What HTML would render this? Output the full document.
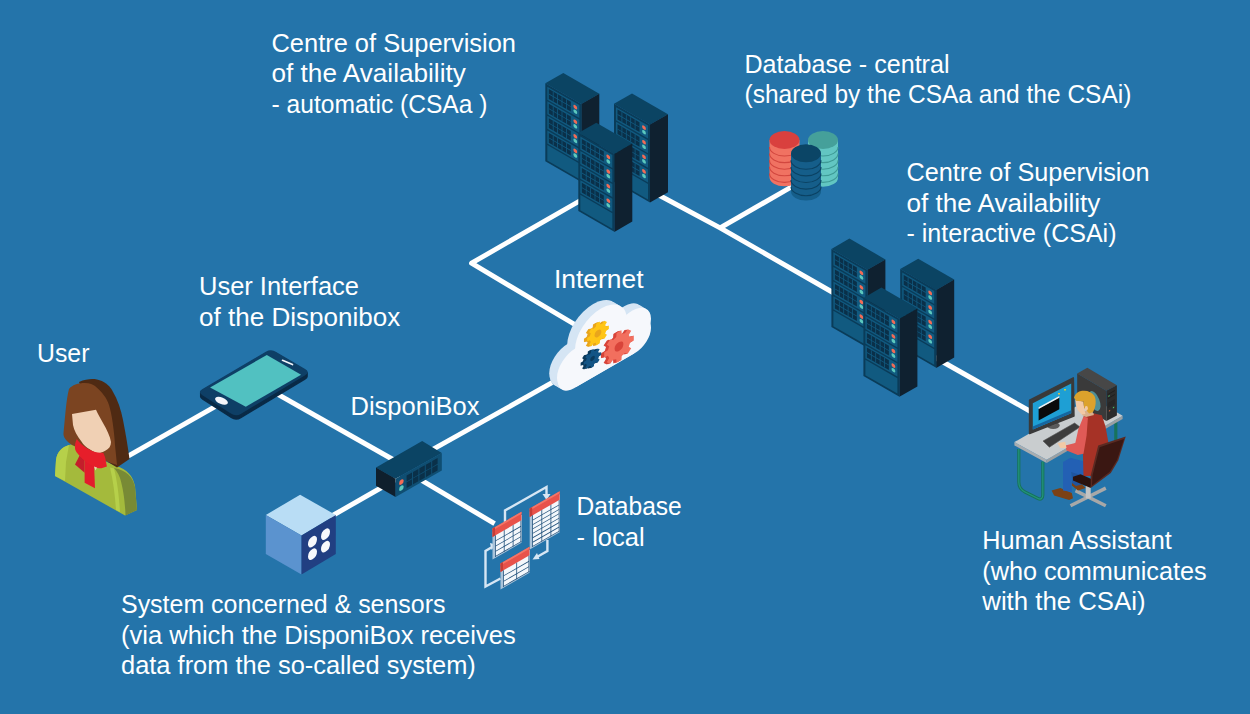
<!DOCTYPE html>
<html><head><meta charset="utf-8"><title>DisponiBox architecture</title>
<style>
html,body{margin:0;padding:0;background:#2474aa;width:1250px;height:714px;overflow:hidden}
svg{display:block}
text{font-family:"Liberation Sans",sans-serif;fill:#fff;font-size:26.3px}
</style></head><body>
<svg width="1250" height="714" viewBox="0 0 1250 714">
<rect width="1250" height="714" fill="#2474aa"/>

<polyline points="128.0,456.1 230.0,398.2" fill="none" stroke="#fff" stroke-width="4.9" stroke-linejoin="round" stroke-linecap="butt"/>
<polyline points="262.0,385.3 400.0,463.5" fill="none" stroke="#fff" stroke-width="4.9" stroke-linejoin="round" stroke-linecap="butt"/>
<polyline points="420.0,479.4 494.6,523.7" fill="none" stroke="#fff" stroke-width="4.9" stroke-linejoin="round" stroke-linecap="butt"/>
<polyline points="330.0,517.0 400.0,477.0" fill="none" stroke="#fff" stroke-width="4.9" stroke-linejoin="round" stroke-linecap="butt"/>
<polyline points="410.0,462.2 552.0,382.7" fill="none" stroke="#fff" stroke-width="4.9" stroke-linejoin="round" stroke-linecap="butt"/>
<polyline points="590.0,333.5 471.5,263.2 590.0,195.0" fill="none" stroke="#fff" stroke-width="4.9" stroke-linejoin="round" stroke-linecap="butt"/>
<polyline points="640.0,185.0 720.1,227.9 860.0,308.0" fill="none" stroke="#fff" stroke-width="4.9" stroke-linejoin="round" stroke-linecap="butt"/>
<polyline points="720.1,227.9 800.0,182.0" fill="none" stroke="#fff" stroke-width="4.9" stroke-linejoin="round" stroke-linecap="butt"/>
<polyline points="920.0,349.0 1035.0,414.0" fill="none" stroke="#fff" stroke-width="4.9" stroke-linejoin="round" stroke-linecap="butt"/>
<polygon points="545.3,83.3 563.3,72.9 599.3,93.7 581.3,104.1" fill="#0b4463"/>
<polygon points="581.3,104.1 599.3,93.7 599.3,171.7 581.3,182.1" fill="#0f2130"/>
<g transform="matrix(1,0.577,0,1,545.3,83.3)">
<rect x="0" y="0" width="36" height="78" fill="#0a3c59"/>
<rect x="2" y="2.2" width="32" height="13.0" fill="#115a80"/>
<rect x="3.5" y="3.8" width="22" height="9.8" fill="#0a3049"/>
<rect x="7.5" y="3.8" width="0.8" height="9.8" fill="#115a80"/>
<rect x="11.9" y="3.8" width="0.8" height="9.8" fill="#115a80"/>
<rect x="16.3" y="3.8" width="0.8" height="9.8" fill="#115a80"/>
<rect x="20.7" y="3.8" width="0.8" height="9.8" fill="#115a80"/>
<rect x="3.5" y="8.3" width="22" height="0.8" fill="#115a80"/>
<ellipse cx="30" cy="6.5" rx="1.9" ry="1.9" fill="#f26b55"/>
<ellipse cx="30" cy="11.1" rx="1.9" ry="1.9" fill="#5cc9be"/>
<rect x="2" y="16.8" width="32" height="13.0" fill="#115a80"/>
<rect x="3.5" y="18.4" width="22" height="9.8" fill="#0a3049"/>
<rect x="7.5" y="18.4" width="0.8" height="9.8" fill="#115a80"/>
<rect x="11.9" y="18.4" width="0.8" height="9.8" fill="#115a80"/>
<rect x="16.3" y="18.4" width="0.8" height="9.8" fill="#115a80"/>
<rect x="20.7" y="18.4" width="0.8" height="9.8" fill="#115a80"/>
<rect x="3.5" y="22.9" width="22" height="0.8" fill="#115a80"/>
<ellipse cx="30" cy="21.1" rx="1.9" ry="1.9" fill="#f26b55"/>
<ellipse cx="30" cy="25.7" rx="1.9" ry="1.9" fill="#5cc9be"/>
<rect x="2" y="31.4" width="32" height="13.0" fill="#115a80"/>
<rect x="3.5" y="33.0" width="22" height="9.8" fill="#0a3049"/>
<rect x="7.5" y="33.0" width="0.8" height="9.8" fill="#115a80"/>
<rect x="11.9" y="33.0" width="0.8" height="9.8" fill="#115a80"/>
<rect x="16.3" y="33.0" width="0.8" height="9.8" fill="#115a80"/>
<rect x="20.7" y="33.0" width="0.8" height="9.8" fill="#115a80"/>
<rect x="3.5" y="37.5" width="22" height="0.8" fill="#115a80"/>
<ellipse cx="30" cy="35.7" rx="1.9" ry="1.9" fill="#f26b55"/>
<ellipse cx="30" cy="40.3" rx="1.9" ry="1.9" fill="#5cc9be"/>
<rect x="2" y="46.0" width="32" height="13.0" fill="#115a80"/>
<rect x="3.5" y="47.6" width="22" height="9.8" fill="#0a3049"/>
<rect x="7.5" y="47.6" width="0.8" height="9.8" fill="#115a80"/>
<rect x="11.9" y="47.6" width="0.8" height="9.8" fill="#115a80"/>
<rect x="16.3" y="47.6" width="0.8" height="9.8" fill="#115a80"/>
<rect x="20.7" y="47.6" width="0.8" height="9.8" fill="#115a80"/>
<rect x="3.5" y="52.1" width="22" height="0.8" fill="#115a80"/>
<ellipse cx="30" cy="50.3" rx="1.9" ry="1.9" fill="#f26b55"/>
<ellipse cx="30" cy="54.9" rx="1.9" ry="1.9" fill="#5cc9be"/>
<rect x="2" y="60.6" width="32" height="15.4" fill="#115a80"/>
</g>
<polygon points="614.0,103.8 632.0,93.4 668.0,114.2 650.0,124.6" fill="#0b4463"/>
<polygon points="650.0,124.6 668.0,114.2 668.0,192.2 650.0,202.6" fill="#0f2130"/>
<g transform="matrix(1,0.577,0,1,614,103.8)">
<rect x="0" y="0" width="36" height="78" fill="#0a3c59"/>
<rect x="2" y="2.2" width="32" height="13.0" fill="#115a80"/>
<rect x="3.5" y="3.8" width="22" height="9.8" fill="#0a3049"/>
<rect x="7.5" y="3.8" width="0.8" height="9.8" fill="#115a80"/>
<rect x="11.9" y="3.8" width="0.8" height="9.8" fill="#115a80"/>
<rect x="16.3" y="3.8" width="0.8" height="9.8" fill="#115a80"/>
<rect x="20.7" y="3.8" width="0.8" height="9.8" fill="#115a80"/>
<rect x="3.5" y="8.3" width="22" height="0.8" fill="#115a80"/>
<ellipse cx="30" cy="6.5" rx="1.9" ry="1.9" fill="#f26b55"/>
<ellipse cx="30" cy="11.1" rx="1.9" ry="1.9" fill="#5cc9be"/>
<rect x="2" y="16.8" width="32" height="13.0" fill="#115a80"/>
<rect x="3.5" y="18.4" width="22" height="9.8" fill="#0a3049"/>
<rect x="7.5" y="18.4" width="0.8" height="9.8" fill="#115a80"/>
<rect x="11.9" y="18.4" width="0.8" height="9.8" fill="#115a80"/>
<rect x="16.3" y="18.4" width="0.8" height="9.8" fill="#115a80"/>
<rect x="20.7" y="18.4" width="0.8" height="9.8" fill="#115a80"/>
<rect x="3.5" y="22.9" width="22" height="0.8" fill="#115a80"/>
<ellipse cx="30" cy="21.1" rx="1.9" ry="1.9" fill="#f26b55"/>
<ellipse cx="30" cy="25.7" rx="1.9" ry="1.9" fill="#5cc9be"/>
<rect x="2" y="31.4" width="32" height="13.0" fill="#115a80"/>
<rect x="3.5" y="33.0" width="22" height="9.8" fill="#0a3049"/>
<rect x="7.5" y="33.0" width="0.8" height="9.8" fill="#115a80"/>
<rect x="11.9" y="33.0" width="0.8" height="9.8" fill="#115a80"/>
<rect x="16.3" y="33.0" width="0.8" height="9.8" fill="#115a80"/>
<rect x="20.7" y="33.0" width="0.8" height="9.8" fill="#115a80"/>
<rect x="3.5" y="37.5" width="22" height="0.8" fill="#115a80"/>
<ellipse cx="30" cy="35.7" rx="1.9" ry="1.9" fill="#f26b55"/>
<ellipse cx="30" cy="40.3" rx="1.9" ry="1.9" fill="#5cc9be"/>
<rect x="2" y="46.0" width="32" height="13.0" fill="#115a80"/>
<rect x="3.5" y="47.6" width="22" height="9.8" fill="#0a3049"/>
<rect x="7.5" y="47.6" width="0.8" height="9.8" fill="#115a80"/>
<rect x="11.9" y="47.6" width="0.8" height="9.8" fill="#115a80"/>
<rect x="16.3" y="47.6" width="0.8" height="9.8" fill="#115a80"/>
<rect x="20.7" y="47.6" width="0.8" height="9.8" fill="#115a80"/>
<rect x="3.5" y="52.1" width="22" height="0.8" fill="#115a80"/>
<ellipse cx="30" cy="50.3" rx="1.9" ry="1.9" fill="#f26b55"/>
<ellipse cx="30" cy="54.9" rx="1.9" ry="1.9" fill="#5cc9be"/>
<rect x="2" y="60.6" width="32" height="15.4" fill="#115a80"/>
</g>
<polygon points="578.3,133.1 596.3,122.7 632.3,143.5 614.3,153.9" fill="#0b4463"/>
<polygon points="614.3,153.9 632.3,143.5 632.3,221.5 614.3,231.9" fill="#0f2130"/>
<g transform="matrix(1,0.577,0,1,578.3,133.1)">
<rect x="0" y="0" width="36" height="78" fill="#0a3c59"/>
<rect x="2" y="2.2" width="32" height="13.0" fill="#115a80"/>
<rect x="3.5" y="3.8" width="22" height="9.8" fill="#0a3049"/>
<rect x="7.5" y="3.8" width="0.8" height="9.8" fill="#115a80"/>
<rect x="11.9" y="3.8" width="0.8" height="9.8" fill="#115a80"/>
<rect x="16.3" y="3.8" width="0.8" height="9.8" fill="#115a80"/>
<rect x="20.7" y="3.8" width="0.8" height="9.8" fill="#115a80"/>
<rect x="3.5" y="8.3" width="22" height="0.8" fill="#115a80"/>
<ellipse cx="30" cy="6.5" rx="1.9" ry="1.9" fill="#f26b55"/>
<ellipse cx="30" cy="11.1" rx="1.9" ry="1.9" fill="#5cc9be"/>
<rect x="2" y="16.8" width="32" height="13.0" fill="#115a80"/>
<rect x="3.5" y="18.4" width="22" height="9.8" fill="#0a3049"/>
<rect x="7.5" y="18.4" width="0.8" height="9.8" fill="#115a80"/>
<rect x="11.9" y="18.4" width="0.8" height="9.8" fill="#115a80"/>
<rect x="16.3" y="18.4" width="0.8" height="9.8" fill="#115a80"/>
<rect x="20.7" y="18.4" width="0.8" height="9.8" fill="#115a80"/>
<rect x="3.5" y="22.9" width="22" height="0.8" fill="#115a80"/>
<ellipse cx="30" cy="21.1" rx="1.9" ry="1.9" fill="#f26b55"/>
<ellipse cx="30" cy="25.7" rx="1.9" ry="1.9" fill="#5cc9be"/>
<rect x="2" y="31.4" width="32" height="13.0" fill="#115a80"/>
<rect x="3.5" y="33.0" width="22" height="9.8" fill="#0a3049"/>
<rect x="7.5" y="33.0" width="0.8" height="9.8" fill="#115a80"/>
<rect x="11.9" y="33.0" width="0.8" height="9.8" fill="#115a80"/>
<rect x="16.3" y="33.0" width="0.8" height="9.8" fill="#115a80"/>
<rect x="20.7" y="33.0" width="0.8" height="9.8" fill="#115a80"/>
<rect x="3.5" y="37.5" width="22" height="0.8" fill="#115a80"/>
<ellipse cx="30" cy="35.7" rx="1.9" ry="1.9" fill="#f26b55"/>
<ellipse cx="30" cy="40.3" rx="1.9" ry="1.9" fill="#5cc9be"/>
<rect x="2" y="46.0" width="32" height="13.0" fill="#115a80"/>
<rect x="3.5" y="47.6" width="22" height="9.8" fill="#0a3049"/>
<rect x="7.5" y="47.6" width="0.8" height="9.8" fill="#115a80"/>
<rect x="11.9" y="47.6" width="0.8" height="9.8" fill="#115a80"/>
<rect x="16.3" y="47.6" width="0.8" height="9.8" fill="#115a80"/>
<rect x="20.7" y="47.6" width="0.8" height="9.8" fill="#115a80"/>
<rect x="3.5" y="52.1" width="22" height="0.8" fill="#115a80"/>
<ellipse cx="30" cy="50.3" rx="1.9" ry="1.9" fill="#f26b55"/>
<ellipse cx="30" cy="54.9" rx="1.9" ry="1.9" fill="#5cc9be"/>
<rect x="2" y="60.6" width="32" height="15.4" fill="#115a80"/>
</g>
<polygon points="831.4,249.0 849.4,238.6 885.4,259.4 867.4,269.8" fill="#0b4463"/>
<polygon points="867.4,269.8 885.4,259.4 885.4,337.4 867.4,347.8" fill="#0f2130"/>
<g transform="matrix(1,0.577,0,1,831.4,249)">
<rect x="0" y="0" width="36" height="78" fill="#0a3c59"/>
<rect x="2" y="2.2" width="32" height="13.0" fill="#115a80"/>
<rect x="3.5" y="3.8" width="22" height="9.8" fill="#0a3049"/>
<rect x="7.5" y="3.8" width="0.8" height="9.8" fill="#115a80"/>
<rect x="11.9" y="3.8" width="0.8" height="9.8" fill="#115a80"/>
<rect x="16.3" y="3.8" width="0.8" height="9.8" fill="#115a80"/>
<rect x="20.7" y="3.8" width="0.8" height="9.8" fill="#115a80"/>
<rect x="3.5" y="8.3" width="22" height="0.8" fill="#115a80"/>
<ellipse cx="30" cy="6.5" rx="1.9" ry="1.9" fill="#f26b55"/>
<ellipse cx="30" cy="11.1" rx="1.9" ry="1.9" fill="#5cc9be"/>
<rect x="2" y="16.8" width="32" height="13.0" fill="#115a80"/>
<rect x="3.5" y="18.4" width="22" height="9.8" fill="#0a3049"/>
<rect x="7.5" y="18.4" width="0.8" height="9.8" fill="#115a80"/>
<rect x="11.9" y="18.4" width="0.8" height="9.8" fill="#115a80"/>
<rect x="16.3" y="18.4" width="0.8" height="9.8" fill="#115a80"/>
<rect x="20.7" y="18.4" width="0.8" height="9.8" fill="#115a80"/>
<rect x="3.5" y="22.9" width="22" height="0.8" fill="#115a80"/>
<ellipse cx="30" cy="21.1" rx="1.9" ry="1.9" fill="#f26b55"/>
<ellipse cx="30" cy="25.7" rx="1.9" ry="1.9" fill="#5cc9be"/>
<rect x="2" y="31.4" width="32" height="13.0" fill="#115a80"/>
<rect x="3.5" y="33.0" width="22" height="9.8" fill="#0a3049"/>
<rect x="7.5" y="33.0" width="0.8" height="9.8" fill="#115a80"/>
<rect x="11.9" y="33.0" width="0.8" height="9.8" fill="#115a80"/>
<rect x="16.3" y="33.0" width="0.8" height="9.8" fill="#115a80"/>
<rect x="20.7" y="33.0" width="0.8" height="9.8" fill="#115a80"/>
<rect x="3.5" y="37.5" width="22" height="0.8" fill="#115a80"/>
<ellipse cx="30" cy="35.7" rx="1.9" ry="1.9" fill="#f26b55"/>
<ellipse cx="30" cy="40.3" rx="1.9" ry="1.9" fill="#5cc9be"/>
<rect x="2" y="46.0" width="32" height="13.0" fill="#115a80"/>
<rect x="3.5" y="47.6" width="22" height="9.8" fill="#0a3049"/>
<rect x="7.5" y="47.6" width="0.8" height="9.8" fill="#115a80"/>
<rect x="11.9" y="47.6" width="0.8" height="9.8" fill="#115a80"/>
<rect x="16.3" y="47.6" width="0.8" height="9.8" fill="#115a80"/>
<rect x="20.7" y="47.6" width="0.8" height="9.8" fill="#115a80"/>
<rect x="3.5" y="52.1" width="22" height="0.8" fill="#115a80"/>
<ellipse cx="30" cy="50.3" rx="1.9" ry="1.9" fill="#f26b55"/>
<ellipse cx="30" cy="54.9" rx="1.9" ry="1.9" fill="#5cc9be"/>
<rect x="2" y="60.6" width="32" height="15.4" fill="#115a80"/>
</g>
<polygon points="900.2,269.1 918.2,258.7 954.2,279.5 936.2,289.9" fill="#0b4463"/>
<polygon points="936.2,289.9 954.2,279.5 954.2,357.5 936.2,367.9" fill="#0f2130"/>
<g transform="matrix(1,0.577,0,1,900.2,269.1)">
<rect x="0" y="0" width="36" height="78" fill="#0a3c59"/>
<rect x="2" y="2.2" width="32" height="13.0" fill="#115a80"/>
<rect x="3.5" y="3.8" width="22" height="9.8" fill="#0a3049"/>
<rect x="7.5" y="3.8" width="0.8" height="9.8" fill="#115a80"/>
<rect x="11.9" y="3.8" width="0.8" height="9.8" fill="#115a80"/>
<rect x="16.3" y="3.8" width="0.8" height="9.8" fill="#115a80"/>
<rect x="20.7" y="3.8" width="0.8" height="9.8" fill="#115a80"/>
<rect x="3.5" y="8.3" width="22" height="0.8" fill="#115a80"/>
<ellipse cx="30" cy="6.5" rx="1.9" ry="1.9" fill="#f26b55"/>
<ellipse cx="30" cy="11.1" rx="1.9" ry="1.9" fill="#5cc9be"/>
<rect x="2" y="16.8" width="32" height="13.0" fill="#115a80"/>
<rect x="3.5" y="18.4" width="22" height="9.8" fill="#0a3049"/>
<rect x="7.5" y="18.4" width="0.8" height="9.8" fill="#115a80"/>
<rect x="11.9" y="18.4" width="0.8" height="9.8" fill="#115a80"/>
<rect x="16.3" y="18.4" width="0.8" height="9.8" fill="#115a80"/>
<rect x="20.7" y="18.4" width="0.8" height="9.8" fill="#115a80"/>
<rect x="3.5" y="22.9" width="22" height="0.8" fill="#115a80"/>
<ellipse cx="30" cy="21.1" rx="1.9" ry="1.9" fill="#f26b55"/>
<ellipse cx="30" cy="25.7" rx="1.9" ry="1.9" fill="#5cc9be"/>
<rect x="2" y="31.4" width="32" height="13.0" fill="#115a80"/>
<rect x="3.5" y="33.0" width="22" height="9.8" fill="#0a3049"/>
<rect x="7.5" y="33.0" width="0.8" height="9.8" fill="#115a80"/>
<rect x="11.9" y="33.0" width="0.8" height="9.8" fill="#115a80"/>
<rect x="16.3" y="33.0" width="0.8" height="9.8" fill="#115a80"/>
<rect x="20.7" y="33.0" width="0.8" height="9.8" fill="#115a80"/>
<rect x="3.5" y="37.5" width="22" height="0.8" fill="#115a80"/>
<ellipse cx="30" cy="35.7" rx="1.9" ry="1.9" fill="#f26b55"/>
<ellipse cx="30" cy="40.3" rx="1.9" ry="1.9" fill="#5cc9be"/>
<rect x="2" y="46.0" width="32" height="13.0" fill="#115a80"/>
<rect x="3.5" y="47.6" width="22" height="9.8" fill="#0a3049"/>
<rect x="7.5" y="47.6" width="0.8" height="9.8" fill="#115a80"/>
<rect x="11.9" y="47.6" width="0.8" height="9.8" fill="#115a80"/>
<rect x="16.3" y="47.6" width="0.8" height="9.8" fill="#115a80"/>
<rect x="20.7" y="47.6" width="0.8" height="9.8" fill="#115a80"/>
<rect x="3.5" y="52.1" width="22" height="0.8" fill="#115a80"/>
<ellipse cx="30" cy="50.3" rx="1.9" ry="1.9" fill="#f26b55"/>
<ellipse cx="30" cy="54.9" rx="1.9" ry="1.9" fill="#5cc9be"/>
<rect x="2" y="60.6" width="32" height="15.4" fill="#115a80"/>
</g>
<polygon points="863.4,298.0 881.4,287.6 917.4,308.4 899.4,318.8" fill="#0b4463"/>
<polygon points="899.4,318.8 917.4,308.4 917.4,386.4 899.4,396.8" fill="#0f2130"/>
<g transform="matrix(1,0.577,0,1,863.4,298)">
<rect x="0" y="0" width="36" height="78" fill="#0a3c59"/>
<rect x="2" y="2.2" width="32" height="13.0" fill="#115a80"/>
<rect x="3.5" y="3.8" width="22" height="9.8" fill="#0a3049"/>
<rect x="7.5" y="3.8" width="0.8" height="9.8" fill="#115a80"/>
<rect x="11.9" y="3.8" width="0.8" height="9.8" fill="#115a80"/>
<rect x="16.3" y="3.8" width="0.8" height="9.8" fill="#115a80"/>
<rect x="20.7" y="3.8" width="0.8" height="9.8" fill="#115a80"/>
<rect x="3.5" y="8.3" width="22" height="0.8" fill="#115a80"/>
<ellipse cx="30" cy="6.5" rx="1.9" ry="1.9" fill="#f26b55"/>
<ellipse cx="30" cy="11.1" rx="1.9" ry="1.9" fill="#5cc9be"/>
<rect x="2" y="16.8" width="32" height="13.0" fill="#115a80"/>
<rect x="3.5" y="18.4" width="22" height="9.8" fill="#0a3049"/>
<rect x="7.5" y="18.4" width="0.8" height="9.8" fill="#115a80"/>
<rect x="11.9" y="18.4" width="0.8" height="9.8" fill="#115a80"/>
<rect x="16.3" y="18.4" width="0.8" height="9.8" fill="#115a80"/>
<rect x="20.7" y="18.4" width="0.8" height="9.8" fill="#115a80"/>
<rect x="3.5" y="22.9" width="22" height="0.8" fill="#115a80"/>
<ellipse cx="30" cy="21.1" rx="1.9" ry="1.9" fill="#f26b55"/>
<ellipse cx="30" cy="25.7" rx="1.9" ry="1.9" fill="#5cc9be"/>
<rect x="2" y="31.4" width="32" height="13.0" fill="#115a80"/>
<rect x="3.5" y="33.0" width="22" height="9.8" fill="#0a3049"/>
<rect x="7.5" y="33.0" width="0.8" height="9.8" fill="#115a80"/>
<rect x="11.9" y="33.0" width="0.8" height="9.8" fill="#115a80"/>
<rect x="16.3" y="33.0" width="0.8" height="9.8" fill="#115a80"/>
<rect x="20.7" y="33.0" width="0.8" height="9.8" fill="#115a80"/>
<rect x="3.5" y="37.5" width="22" height="0.8" fill="#115a80"/>
<ellipse cx="30" cy="35.7" rx="1.9" ry="1.9" fill="#f26b55"/>
<ellipse cx="30" cy="40.3" rx="1.9" ry="1.9" fill="#5cc9be"/>
<rect x="2" y="46.0" width="32" height="13.0" fill="#115a80"/>
<rect x="3.5" y="47.6" width="22" height="9.8" fill="#0a3049"/>
<rect x="7.5" y="47.6" width="0.8" height="9.8" fill="#115a80"/>
<rect x="11.9" y="47.6" width="0.8" height="9.8" fill="#115a80"/>
<rect x="16.3" y="47.6" width="0.8" height="9.8" fill="#115a80"/>
<rect x="20.7" y="47.6" width="0.8" height="9.8" fill="#115a80"/>
<rect x="3.5" y="52.1" width="22" height="0.8" fill="#115a80"/>
<ellipse cx="30" cy="50.3" rx="1.9" ry="1.9" fill="#f26b55"/>
<ellipse cx="30" cy="54.9" rx="1.9" ry="1.9" fill="#5cc9be"/>
<rect x="2" y="60.6" width="32" height="15.4" fill="#115a80"/>
</g>
<path d="M769.5,140 L769.5,177.3 A15,9 0 0 0 799.5,177.3 L799.5,140 Z" fill="#f07262"/>
<path d="M769.5,147.0 A15,9 0 0 0 799.5,147.0" fill="none" stroke="#d2473f" stroke-width="1.1"/>
<path d="M769.5,153.6 A15,9 0 0 0 799.5,153.6" fill="none" stroke="#d2473f" stroke-width="1.1"/>
<path d="M769.5,160.2 A15,9 0 0 0 799.5,160.2" fill="none" stroke="#d2473f" stroke-width="1.1"/>
<path d="M769.5,166.8 A15,9 0 0 0 799.5,166.8" fill="none" stroke="#d2473f" stroke-width="1.1"/>
<path d="M769.5,173.4 A15,9 0 0 0 799.5,173.4" fill="none" stroke="#d2473f" stroke-width="1.1"/>
<ellipse cx="784.5" cy="140" rx="15" ry="9" fill="#d9403e"/>
<path d="M808,140 L808,177.7 A15,9 0 0 0 838,177.7 L838,140 Z" fill="#62c6c2"/>
<path d="M808,147.0 A15,9 0 0 0 838,147.0" fill="none" stroke="#3e9a95" stroke-width="1.1"/>
<path d="M808,153.6 A15,9 0 0 0 838,153.6" fill="none" stroke="#3e9a95" stroke-width="1.1"/>
<path d="M808,160.2 A15,9 0 0 0 838,160.2" fill="none" stroke="#3e9a95" stroke-width="1.1"/>
<path d="M808,166.8 A15,9 0 0 0 838,166.8" fill="none" stroke="#3e9a95" stroke-width="1.1"/>
<path d="M808,173.4 A15,9 0 0 0 838,173.4" fill="none" stroke="#3e9a95" stroke-width="1.1"/>
<ellipse cx="823" cy="140" rx="15" ry="9" fill="#45a09a"/>
<path d="M791,153.3 L791,191.6 A15,9 0 0 0 821,191.6 L821,153.3 Z" fill="#155e8a"/>
<path d="M791,160.3 A15,9 0 0 0 821,160.3" fill="none" stroke="#0b4263" stroke-width="1.1"/>
<path d="M791,166.9 A15,9 0 0 0 821,166.9" fill="none" stroke="#0b4263" stroke-width="1.1"/>
<path d="M791,173.5 A15,9 0 0 0 821,173.5" fill="none" stroke="#0b4263" stroke-width="1.1"/>
<path d="M791,180.1 A15,9 0 0 0 821,180.1" fill="none" stroke="#0b4263" stroke-width="1.1"/>
<path d="M791,186.7 A15,9 0 0 0 821,186.7" fill="none" stroke="#0b4263" stroke-width="1.1"/>
<ellipse cx="806" cy="153.3" rx="15" ry="9" fill="#0b4566"/>
<g transform="matrix(1,-0.577,0,1,542.2,395.5)" fill="#d5e5f4"><circle cx="26" cy="-18" r="19"/><circle cx="51" cy="-36" r="26"/><circle cx="82" cy="-23" r="19"/><rect x="8" y="-30" width="93" height="32" rx="16"/><rect x="26" y="-34" width="58" height="36"/></g>
<g transform="matrix(1,-0.577,0,1,544.8,397.0)" fill="#d5e5f4"><circle cx="26" cy="-18" r="19"/><circle cx="51" cy="-36" r="26"/><circle cx="82" cy="-23" r="19"/><rect x="8" y="-30" width="93" height="32" rx="16"/><rect x="26" y="-34" width="58" height="36"/></g>
<g transform="matrix(1,-0.577,0,1,547.4,398.5)" fill="#d5e5f4"><circle cx="26" cy="-18" r="19"/><circle cx="51" cy="-36" r="26"/><circle cx="82" cy="-23" r="19"/><rect x="8" y="-30" width="93" height="32" rx="16"/><rect x="26" y="-34" width="58" height="36"/></g>
<g transform="matrix(1,-0.577,0,1,550.0,400.0)" fill="#f6f8fc"><circle cx="26" cy="-18" r="19"/><circle cx="51" cy="-36" r="26"/><circle cx="82" cy="-23" r="19"/><rect x="8" y="-30" width="93" height="32" rx="16"/><rect x="26" y="-34" width="58" height="36"/></g>
<g transform="matrix(1,-0.577,0,1,594.8,334.3)"><polygon points="8.15,-2.03 10.85,-1.81 10.85,1.81 8.15,2.03 7.20,4.33 8.95,6.40 6.40,8.95 4.33,7.20 2.03,8.15 1.81,10.85 -1.81,10.85 -2.03,8.15 -4.33,7.20 -6.40,8.95 -8.95,6.40 -7.20,4.33 -8.15,2.03 -10.85,1.81 -10.85,-1.81 -8.15,-2.03 -7.20,-4.33 -8.95,-6.40 -6.40,-8.95 -4.33,-7.20 -2.03,-8.15 -1.81,-10.85 1.81,-10.85 2.03,-8.15 4.33,-7.20 6.40,-8.95 8.95,-6.40 7.20,-4.33" fill="#e9a51c"/></g>
<g transform="matrix(1,-0.577,0,1,595.9,334.0)"><polygon points="8.15,-2.03 10.85,-1.81 10.85,1.81 8.15,2.03 7.20,4.33 8.95,6.40 6.40,8.95 4.33,7.20 2.03,8.15 1.81,10.85 -1.81,10.85 -2.03,8.15 -4.33,7.20 -6.40,8.95 -8.95,6.40 -7.20,4.33 -8.15,2.03 -10.85,1.81 -10.85,-1.81 -8.15,-2.03 -7.20,-4.33 -8.95,-6.40 -6.40,-8.95 -4.33,-7.20 -2.03,-8.15 -1.81,-10.85 1.81,-10.85 2.03,-8.15 4.33,-7.20 6.40,-8.95 8.95,-6.40 7.20,-4.33" fill="#e9a51c"/></g>
<g transform="matrix(1,-0.577,0,1,597.0,333.8)"><polygon points="8.15,-2.03 10.85,-1.81 10.85,1.81 8.15,2.03 7.20,4.33 8.95,6.40 6.40,8.95 4.33,7.20 2.03,8.15 1.81,10.85 -1.81,10.85 -2.03,8.15 -4.33,7.20 -6.40,8.95 -8.95,6.40 -7.20,4.33 -8.15,2.03 -10.85,1.81 -10.85,-1.81 -8.15,-2.03 -7.20,-4.33 -8.95,-6.40 -6.40,-8.95 -4.33,-7.20 -2.03,-8.15 -1.81,-10.85 1.81,-10.85 2.03,-8.15 4.33,-7.20 6.40,-8.95 8.95,-6.40 7.20,-4.33" fill="#e9a51c"/></g>
<g transform="matrix(1,-0.577,0,1,598.0,333.5)"><polygon points="8.15,-2.03 10.85,-1.81 10.85,1.81 8.15,2.03 7.20,4.33 8.95,6.40 6.40,8.95 4.33,7.20 2.03,8.15 1.81,10.85 -1.81,10.85 -2.03,8.15 -4.33,7.20 -6.40,8.95 -8.95,6.40 -7.20,4.33 -8.15,2.03 -10.85,1.81 -10.85,-1.81 -8.15,-2.03 -7.20,-4.33 -8.95,-6.40 -6.40,-8.95 -4.33,-7.20 -2.03,-8.15 -1.81,-10.85 1.81,-10.85 2.03,-8.15 4.33,-7.20 6.40,-8.95 8.95,-6.40 7.20,-4.33" fill="#ffc516"/></g>
<g transform="matrix(1,-0.577,0,1,598.0,333.5)"><circle cx="0" cy="0" r="3.4" fill="#e9a51c"/></g>
<g transform="matrix(1,-0.577,0,1,615.8,347.3)"><polygon points="11.06,-2.75 14.80,-2.46 14.80,2.46 11.06,2.75 9.77,5.88 12.20,8.72 8.72,12.20 5.88,9.77 2.75,11.06 2.46,14.80 -2.46,14.80 -2.75,11.06 -5.88,9.77 -8.72,12.20 -12.20,8.72 -9.77,5.88 -11.06,2.75 -14.80,2.46 -14.80,-2.46 -11.06,-2.75 -9.77,-5.88 -12.20,-8.72 -8.72,-12.20 -5.88,-9.77 -2.75,-11.06 -2.46,-14.80 2.46,-14.80 2.75,-11.06 5.88,-9.77 8.72,-12.20 12.20,-8.72 9.77,-5.88" fill="#d8443a"/></g>
<g transform="matrix(1,-0.577,0,1,616.9,347.0)"><polygon points="11.06,-2.75 14.80,-2.46 14.80,2.46 11.06,2.75 9.77,5.88 12.20,8.72 8.72,12.20 5.88,9.77 2.75,11.06 2.46,14.80 -2.46,14.80 -2.75,11.06 -5.88,9.77 -8.72,12.20 -12.20,8.72 -9.77,5.88 -11.06,2.75 -14.80,2.46 -14.80,-2.46 -11.06,-2.75 -9.77,-5.88 -12.20,-8.72 -8.72,-12.20 -5.88,-9.77 -2.75,-11.06 -2.46,-14.80 2.46,-14.80 2.75,-11.06 5.88,-9.77 8.72,-12.20 12.20,-8.72 9.77,-5.88" fill="#d8443a"/></g>
<g transform="matrix(1,-0.577,0,1,618.0,346.8)"><polygon points="11.06,-2.75 14.80,-2.46 14.80,2.46 11.06,2.75 9.77,5.88 12.20,8.72 8.72,12.20 5.88,9.77 2.75,11.06 2.46,14.80 -2.46,14.80 -2.75,11.06 -5.88,9.77 -8.72,12.20 -12.20,8.72 -9.77,5.88 -11.06,2.75 -14.80,2.46 -14.80,-2.46 -11.06,-2.75 -9.77,-5.88 -12.20,-8.72 -8.72,-12.20 -5.88,-9.77 -2.75,-11.06 -2.46,-14.80 2.46,-14.80 2.75,-11.06 5.88,-9.77 8.72,-12.20 12.20,-8.72 9.77,-5.88" fill="#d8443a"/></g>
<g transform="matrix(1,-0.577,0,1,619.0,346.5)"><polygon points="11.06,-2.75 14.80,-2.46 14.80,2.46 11.06,2.75 9.77,5.88 12.20,8.72 8.72,12.20 5.88,9.77 2.75,11.06 2.46,14.80 -2.46,14.80 -2.75,11.06 -5.88,9.77 -8.72,12.20 -12.20,8.72 -9.77,5.88 -11.06,2.75 -14.80,2.46 -14.80,-2.46 -11.06,-2.75 -9.77,-5.88 -12.20,-8.72 -8.72,-12.20 -5.88,-9.77 -2.75,-11.06 -2.46,-14.80 2.46,-14.80 2.75,-11.06 5.88,-9.77 8.72,-12.20 12.20,-8.72 9.77,-5.88" fill="#f26f5e"/></g>
<g transform="matrix(1,-0.577,0,1,619.0,346.5)"><circle cx="0" cy="0" r="4.4" fill="#d8443a"/></g>
<g transform="matrix(1,-0.577,0,1,589.3,359.3)"><polygon points="6.50,-1.62 8.68,-1.44 8.68,1.44 6.50,1.62 5.74,3.46 7.16,5.12 5.12,7.16 3.46,5.74 1.62,6.50 1.44,8.68 -1.44,8.68 -1.62,6.50 -3.46,5.74 -5.12,7.16 -7.16,5.12 -5.74,3.46 -6.50,1.62 -8.68,1.44 -8.68,-1.44 -6.50,-1.62 -5.74,-3.46 -7.16,-5.12 -5.12,-7.16 -3.46,-5.74 -1.62,-6.50 -1.44,-8.68 1.44,-8.68 1.62,-6.50 3.46,-5.74 5.12,-7.16 7.16,-5.12 5.74,-3.46" fill="#0b3a5c"/></g>
<g transform="matrix(1,-0.577,0,1,590.4,359.0)"><polygon points="6.50,-1.62 8.68,-1.44 8.68,1.44 6.50,1.62 5.74,3.46 7.16,5.12 5.12,7.16 3.46,5.74 1.62,6.50 1.44,8.68 -1.44,8.68 -1.62,6.50 -3.46,5.74 -5.12,7.16 -7.16,5.12 -5.74,3.46 -6.50,1.62 -8.68,1.44 -8.68,-1.44 -6.50,-1.62 -5.74,-3.46 -7.16,-5.12 -5.12,-7.16 -3.46,-5.74 -1.62,-6.50 -1.44,-8.68 1.44,-8.68 1.62,-6.50 3.46,-5.74 5.12,-7.16 7.16,-5.12 5.74,-3.46" fill="#0b3a5c"/></g>
<g transform="matrix(1,-0.577,0,1,591.5,358.8)"><polygon points="6.50,-1.62 8.68,-1.44 8.68,1.44 6.50,1.62 5.74,3.46 7.16,5.12 5.12,7.16 3.46,5.74 1.62,6.50 1.44,8.68 -1.44,8.68 -1.62,6.50 -3.46,5.74 -5.12,7.16 -7.16,5.12 -5.74,3.46 -6.50,1.62 -8.68,1.44 -8.68,-1.44 -6.50,-1.62 -5.74,-3.46 -7.16,-5.12 -5.12,-7.16 -3.46,-5.74 -1.62,-6.50 -1.44,-8.68 1.44,-8.68 1.62,-6.50 3.46,-5.74 5.12,-7.16 7.16,-5.12 5.74,-3.46" fill="#0b3a5c"/></g>
<g transform="matrix(1,-0.577,0,1,592.5,358.5)"><polygon points="6.50,-1.62 8.68,-1.44 8.68,1.44 6.50,1.62 5.74,3.46 7.16,5.12 5.12,7.16 3.46,5.74 1.62,6.50 1.44,8.68 -1.44,8.68 -1.62,6.50 -3.46,5.74 -5.12,7.16 -7.16,5.12 -5.74,3.46 -6.50,1.62 -8.68,1.44 -8.68,-1.44 -6.50,-1.62 -5.74,-3.46 -7.16,-5.12 -5.12,-7.16 -3.46,-5.74 -1.62,-6.50 -1.44,-8.68 1.44,-8.68 1.62,-6.50 3.46,-5.74 5.12,-7.16 7.16,-5.12 5.74,-3.46" fill="#135485"/></g>
<g transform="matrix(1,-0.577,0,1,592.5,358.5)"><circle cx="0" cy="0" r="2.3" fill="#0b3a5c"/></g>
<path d="M202.4,399.7 Q197.3,396.5 202.5,393.5 L265.8,356.3 Q271.0,353.3 276.2,356.4 L305.1,373.6 Q310.3,376.7 305.2,379.8 L241.1,418.2 Q236.0,421.3 230.9,418.1 Z" fill="#0a2b47"/>
<path d="M202.4,398.7 Q197.3,395.5 202.5,392.5 L265.8,355.3 Q271.0,352.3 276.2,355.4 L305.1,372.6 Q310.3,375.7 305.2,378.8 L241.1,417.2 Q236.0,420.3 230.9,417.1 Z" fill="#0a2b47"/>
<path d="M202.4,397.7 Q197.3,394.5 202.5,391.5 L265.8,354.3 Q271.0,351.3 276.2,354.4 L305.1,371.6 Q310.3,374.7 305.2,377.8 L241.1,416.2 Q236.0,419.3 230.9,416.1 Z" fill="#0a2b47"/>
<path d="M202.4,396.7 Q197.3,393.5 202.5,390.5 L265.8,353.3 Q271.0,350.3 276.2,353.4 L305.1,370.6 Q310.3,373.7 305.2,376.8 L241.1,415.2 Q236.0,418.3 230.9,415.1 Z" fill="#0a2b47"/>
<path d="M202.4,396.0 Q197.3,392.8 202.5,389.8 L265.8,352.6 Q271.0,349.6 276.2,352.7 L305.1,369.9 Q310.3,373.0 305.2,376.1 L241.1,414.5 Q236.0,417.6 230.9,414.4 Z" fill="#0a2b47"/>
<path d="M202.4,395.2 Q197.3,392.0 202.5,389.0 L265.8,351.8 Q271.0,348.8 276.2,351.9 L305.1,369.1 Q310.3,372.2 305.2,375.3 L241.1,413.7 Q236.0,416.8 230.9,413.6 Z" fill="#0e3f66"/>
<polygon points="210.1,387.4 266.8,355 301.1,374.8 245.8,406.7" fill="#51c1c1"/>
<ellipse cx="221.5" cy="400.8" rx="6.8" ry="3.3" transform="rotate(22 221.5 400.8)" fill="#f4f6fb"/>
<line x1="282.5" y1="360.3" x2="292.5" y2="364.6" stroke="#f4f6fb" stroke-width="1.6" stroke-linecap="round"/>
<polygon points="376,467.6 422.2,441 441.8,452.9 395.6,478.8" fill="#0b4464"/>
<polygon points="376,467.6 395.6,478.8 395.6,497 376,485.8" fill="#0f1f2d"/>
<polygon points="395.6,478.8 441.8,452.9 441.8,470.4 395.6,497" fill="#0f4e72"/>
<g transform="matrix(1,-0.565,0,1,395.6,478.8)">
<ellipse cx="5.8" cy="6.6" rx="2.3" ry="2.5" fill="#f26b55"/><ellipse cx="5.8" cy="12.6" rx="2.3" ry="2.5" fill="#5cc9be"/>
<rect x="11.0" y="3.0" width="5.4" height="5.8" fill="#0a3049"/>
<rect x="11.0" y="9.6" width="5.4" height="5.8" fill="#0a3049"/>
<rect x="17.4" y="3.0" width="5.4" height="5.8" fill="#0a3049"/>
<rect x="17.4" y="9.6" width="5.4" height="5.8" fill="#0a3049"/>
<rect x="23.8" y="3.0" width="5.4" height="5.8" fill="#0a3049"/>
<rect x="23.8" y="9.6" width="5.4" height="5.8" fill="#0a3049"/>
<rect x="30.2" y="3.0" width="5.4" height="5.8" fill="#0a3049"/>
<rect x="30.2" y="9.6" width="5.4" height="5.8" fill="#0a3049"/>
<rect x="36.6" y="3.0" width="5.4" height="5.8" fill="#0a3049"/>
<rect x="36.6" y="9.6" width="5.4" height="5.8" fill="#0a3049"/>
</g>
<polygon points="265.8,515 300.1,494.7 335.8,515 301.5,535.5" fill="#b9ddf5"/>
<polygon points="265.8,515 301.5,535.5 301.5,574.6 265.8,554" fill="#5b93cf"/>
<polygon points="301.5,535.5 335.8,515 335.8,554 301.5,574.6" fill="#213f82"/>
<g transform="matrix(1,-0.577,0,1,301.5,535.5)">
<ellipse cx="11" cy="12.5" rx="4.5" ry="5.2" fill="#f7f9fc"/>
<ellipse cx="24" cy="12.5" rx="4.5" ry="5.2" fill="#f7f9fc"/>
<ellipse cx="11" cy="25" rx="4.5" ry="5.2" fill="#f7f9fc"/>
<ellipse cx="24" cy="25" rx="4.5" ry="5.2" fill="#f7f9fc"/>
</g>
<polyline points="505,524 505,510.5 546.5,487 546.5,497" fill="none" stroke="#d6e6f4" stroke-width="2.4"/>
<polygon points="542.5,494 550.5,494 546.5,500" fill="#d6e6f4"/>
<polyline points="547.4,540 547.4,551 536,557.5" fill="none" stroke="#d6e6f4" stroke-width="2.4"/>
<polygon points="532.5,559.5 537,553 539.5,559" fill="#d6e6f4"/>
<polyline points="500.5,578.5 485.5,586.5 485.5,551 493,546.5" fill="none" stroke="#d6e6f4" stroke-width="2.4"/>
<polygon points="496,544.5 490,543 491.5,550" fill="#d6e6f4"/>
<g transform="matrix(1,-0.577,0,1,492.5,531.5)">
<rect x="0" y="0" width="29" height="28" fill="#a9c3da"/>
<rect x="2.5" y="0" width="26.5" height="27" fill="#f4f7fb"/>
<rect x="0" y="-3" width="29" height="8.5" fill="#e8524a"/>
<rect x="0" y="-3" width="29" height="2" fill="#f27668"/>
<rect x="0" y="-3" width="2.5" height="8.5" fill="#c63c36"/>
<rect x="3" y="10.8" width="25.5" height="0.8" fill="#1f4f7a"/>
<rect x="3" y="16.0" width="25.5" height="0.8" fill="#1f4f7a"/>
<rect x="3" y="21.2" width="25.5" height="0.8" fill="#1f4f7a"/>
<rect x="11.3" y="5.5" width="0.8" height="21.5" fill="#1f4f7a"/>
<rect x="20.2" y="5.5" width="0.8" height="21.5" fill="#1f4f7a"/>
<rect x="2.5" y="5.5" width="0.8" height="21.5" fill="#1f4f7a"/><rect x="28" y="5.5" width="0.8" height="21.5" fill="#1f4f7a"/><rect x="2.5" y="26.2" width="26.5" height="0.8" fill="#1f4f7a"/>
</g>
<g transform="matrix(1,-0.577,0,1,529.7,511.5)">
<rect x="0" y="0" width="30" height="38" fill="#a9c3da"/>
<rect x="2.5" y="0" width="27.5" height="37" fill="#f4f7fb"/>
<rect x="0" y="-3" width="30" height="8.5" fill="#e8524a"/>
<rect x="0" y="-3" width="30" height="2" fill="#f27668"/>
<rect x="0" y="-3" width="2.5" height="8.5" fill="#c63c36"/>
<rect x="3" y="9.9" width="26.5" height="0.8" fill="#1f4f7a"/>
<rect x="3" y="14.4" width="26.5" height="0.8" fill="#1f4f7a"/>
<rect x="3" y="18.8" width="26.5" height="0.8" fill="#1f4f7a"/>
<rect x="3" y="23.2" width="26.5" height="0.8" fill="#1f4f7a"/>
<rect x="3" y="27.6" width="26.5" height="0.8" fill="#1f4f7a"/>
<rect x="3" y="32.1" width="26.5" height="0.8" fill="#1f4f7a"/>
<rect x="11.7" y="5.5" width="0.8" height="31.5" fill="#1f4f7a"/>
<rect x="20.8" y="5.5" width="0.8" height="31.5" fill="#1f4f7a"/>
<rect x="2.5" y="5.5" width="0.8" height="31.5" fill="#1f4f7a"/><rect x="29" y="5.5" width="0.8" height="31.5" fill="#1f4f7a"/><rect x="2.5" y="36.2" width="27.5" height="0.8" fill="#1f4f7a"/>
</g>
<g transform="matrix(1,-0.577,0,1,500.5,566.5)">
<rect x="0" y="0" width="29" height="23" fill="#a9c3da"/>
<rect x="2.5" y="0" width="26.5" height="22" fill="#f4f7fb"/>
<rect x="0" y="-3" width="29" height="8.5" fill="#e8524a"/>
<rect x="0" y="-3" width="29" height="2" fill="#f27668"/>
<rect x="0" y="-3" width="2.5" height="8.5" fill="#c63c36"/>
<rect x="3" y="10.8" width="25.5" height="0.8" fill="#1f4f7a"/>
<rect x="3" y="16.2" width="25.5" height="0.8" fill="#1f4f7a"/>
<rect x="15.8" y="5.5" width="0.8" height="16.5" fill="#1f4f7a"/>
<rect x="2.5" y="5.5" width="0.8" height="16.5" fill="#1f4f7a"/><rect x="28" y="5.5" width="0.8" height="16.5" fill="#1f4f7a"/><rect x="2.5" y="21.2" width="26.5" height="0.8" fill="#1f4f7a"/>
</g>
<path d="M55,476 L56,460 C57,452 62,447 69,445 L76,443 L107,462 L116,466 C127,469 133,476 135,486 L137,510 L125,515.5 Z" fill="#a4ba3c"/>
<path d="M55,476 L56,460 C57,452 62,447 69,445 L66,462 L65,481 Z" fill="#b6d04a"/>
<path d="M110,467.5 L114,468.5 C117,480 119,495 120,512 L116,510 C115,495 113,480 110,467.5 Z" fill="#b6d04a"/>
<path d="M114,468 C126,470 133,477 135,487 L137,510 L125.5,515.5 C125,500 123,488 120,478 C118,473 116,470 114,468 Z" fill="#788a35"/>
<path d="M79,382 C86,379 92,378.5 97,379.5 C104,381 109,385 112,390 C118,400 121,410 123,420 C126,435 128,448 129.5,459 L117,467.5 L108,462 Z" fill="#4f2a13"/>
<path d="M69,389 C72,385 78,383 85,383 C90,383 93,384.5 95,386 C102,392 107,398 109,405 C112,415 114,430 115,445 L117,465 L108,462 L72,445 C66,441 63,437 63.5,433 C65,420 66,400 69,389 Z" fill="#7b4421"/>
<path d="M72,414 L96,409.8 C98,414 100,418 103,423 C107,430 110,436 111,442 C111,446 109,449 105.6,450.4 C102,452.5 99,453.5 97,453.2 C90,450 84,446 81.8,442 C77,436 74,430 73,425 Z" fill="#f0d0b4"/>
<path d="M75,464.6 L79.6,455.5 L84.6,459.1 L84.6,472.8 Z" fill="#c41e2b"/>
<path d="M84.6,460 L94.1,466 L95,488.3 L84.6,482.8 Z" fill="#e21c2c"/>
<path d="M76.8,439.1 C80,444 86,448.5 92.3,450.9 C96,452.3 100,452.8 103.3,452.8 L105.1,457.3 L106.9,466.4 L101.4,468.3 C98,468 95,467.5 93.2,466.4 C90,464.5 87.5,463 85,461 C82,458.5 79.5,456 77.8,453.7 C76,451.5 75,449.5 75,448.2 C74.8,445 75.3,442 76.8,439.1 Z" fill="#e61e2a"/>
<path d="M94,466.5 L97,467.5 L95.5,470.5 Z" fill="#f0d0b4"/>
<path d="M1018.8,449 L1018.8,482 C1018.8,487 1021,490 1025,492 L1038,498.5 C1041,500 1042.8,498 1042.8,495 L1042.8,461.6" fill="none" stroke="#17735c" stroke-width="3.2" stroke-linejoin="round"/>
<path d="M1018.8,449 L1018.8,482 C1018.8,487 1021,490 1025,492 L1038,498.5 C1041,500 1042.8,498 1042.8,495 L1042.8,461.6" fill="none" stroke="#22957a" stroke-width="1.2" stroke-linejoin="round"/>
<line x1="1115.8" y1="419" x2="1115.8" y2="442" stroke="#17735c" stroke-width="3.2"/>
<polygon points="1014.4,442.1 1046.6,459.7 1046.6,463 1014.4,445.4" fill="#a9adb0"/>
<polygon points="1046.6,459.7 1122.6,415.8 1122.6,419.1 1046.6,463" fill="#9a9fa2"/>
<polygon points="1014.4,442.1 1091.5,397.6 1122.6,415.8 1046.6,459.7" fill="#c9cdcf"/>
<polygon points="1077.2,373.4 1087.3,367.8 1116.9,385.2 1106.4,390.8" fill="#474747"/>
<polygon points="1077.2,373.4 1106.4,390.8 1106.4,421.1 1077.2,404" fill="#3a3a3a"/>
<polygon points="1106.4,390.8 1116.9,385.2 1116.9,415.5 1106.4,421.1" fill="#2c2c2c"/>
<ellipse cx="1094.5" cy="401" rx="5" ry="10.5" fill="#4f8f97" transform="rotate(-22 1094.5 401)"/>
<g transform="matrix(1,-0.55,0,1,1106.4,390.8)"><rect x="1.5" y="4" width="7" height="1" fill="#1f1f1f"/><rect x="1.5" y="8" width="7" height="1" fill="#1f1f1f"/><rect x="1.5" y="13" width="7" height="5" fill="#262626"/><rect x="2" y="6" width="1.2" height="1.2" fill="#4fc06a"/><rect x="6.5" y="20" width="1.3" height="1.3" fill="#4fc06a"/><rect x="2.5" y="21" width="1.3" height="1.3" fill="#d0603a"/></g>
<ellipse cx="1053.2" cy="425.5" rx="6.5" ry="3.4" fill="#5a5a5a"/>
<polygon points="1050.8,418 1055.5,416 1055.5,425 1050.8,426" fill="#6a6a6a"/>
<polygon points="1029.6,400.3 1073.3,377.9 1073.9,416 1029.6,433.4" fill="#3a3a3a" stroke="#3a3a3a" stroke-width="1.6" stroke-linejoin="round"/>
<polygon points="1032.8,403.3 1071.2,383.4 1071.2,413.2 1032.8,429.5" fill="#1e9fd4"/>
<polygon points="1032.8,426.5 1071.2,410.2 1071.2,413.2 1032.8,429.5" fill="#1566a0"/>
<polygon points="1038.6,408.7 1059.3,397.5 1059.3,409.3 1038.6,420.5" fill="#0a0a0a"/>
<polygon points="1038.6,407.2 1059.3,396 1059.3,397.8 1038.6,409" fill="#f0f0f0"/>
<rect x="1058" y="393" width="2" height="1.5" fill="#e0c040"/><rect x="1064" y="389" width="2" height="1.5" fill="#c8d040"/>
<polygon points="1043,441 1074.6,423 1080,427 1049.4,447.2" fill="#3d3d3d" stroke="#555" stroke-width="0.6"/>
<line x1="1070.5" y1="505.7" x2="1105.8" y2="488.1" stroke="#a8a8a8" stroke-width="3.5"/>
<line x1="1075.5" y1="490.6" x2="1105.8" y2="505.7" stroke="#a8a8a8" stroke-width="3.5"/>
<line x1="1088.2" y1="486" x2="1088.2" y2="498.5" stroke="#c4c4c4" stroke-width="5"/>
<polygon points="1051.6,490.6 1060.4,488.1 1071.8,493.1 1073,498.2 1069.2,500 1054.1,495.6" fill="#7b4115"/>
<polygon points="1071.8,481.8 1080.6,483 1085.6,488.1 1078,490.6 1071.8,485.5" fill="#7b4115"/>
<polygon points="1071,470 1080,474 1083,484 1076,486 1072,483" fill="#1f55a0"/>
<polygon points="1063,462 1070.5,457.8 1086,462 1092,475 1085.6,476.5 1071,472 1071.8,491.9 1063,490.6" fill="#2360b4"/>
<polygon points="1083.5,416.5 1094.2,413.4 1101.8,415.3 1105.5,426.6 1108.7,444.2 1098,476 1083.5,476 1082.9,453.1 1086,429.1" fill="#a63226"/>
<polygon points="1083.5,416.5 1087.9,417.8 1086.6,435.4 1083.5,453.7 1077.8,455 1066.5,450.5 1065.2,445.5 1075.3,443 1078.4,429.1" fill="#e05a56"/>
<polygon points="1057.6,443 1065.2,441.7 1066.5,448 1060.2,448" fill="#f2c9a5"/>
<polygon points="1083,411 1092,411 1094,415 1086,417 1082,415" fill="#d9b08c"/>
<polygon points="1075.3,400.1 1083.5,401.4 1084.1,407.7 1085.4,414 1081.6,414.6 1077.8,410.2 1075.9,405.2" fill="#f2c9a5"/>
<path d="M1074,397.6 C1075,394 1078,391.5 1082,390.8 C1087,390 1092,392 1094.5,396 C1096.5,400 1096,407 1093,412 L1089.2,413.4 L1084.1,407.7 L1083.5,401.4 L1075.9,400.8 Z" fill="#dca22c"/>
<ellipse cx="1086.3" cy="408.3" rx="1.6" ry="2.2" fill="#f2c9a5"/>
<polygon points="1073,476.7 1080.6,474.2 1091.9,479.2 1090.7,488.1 1073,480.5" fill="#2a120e"/>
<polygon points="1090.7,475.5 1098.2,445.5 1125.7,436.5 1118.2,460.6 1110.8,472.9 1090.7,488.1" fill="#5a2a22"/>
<polygon points="1092.5,475.5 1099.6,447.3 1124,439 1117,460 1109.8,471.8 1092,485.5" fill="#3a1712"/>
<text x="271.5" y="51.6" textLength="244.5" lengthAdjust="spacingAndGlyphs">Centre of Supervision</text>
<text x="271.5" y="82.4" textLength="194.3" lengthAdjust="spacingAndGlyphs">of the Availability</text>
<text x="271.5" y="112.5" textLength="216" lengthAdjust="spacingAndGlyphs">- automatic (CSAa )</text>
<text x="744.5" y="72.6" textLength="205" lengthAdjust="spacingAndGlyphs">Database - central</text>
<text x="744.5" y="103.2" textLength="386.9" lengthAdjust="spacingAndGlyphs">(shared by the CSAa and the CSAi)</text>
<text x="906.5" y="180.7" textLength="243" lengthAdjust="spacingAndGlyphs">Centre of Supervision</text>
<text x="906.5" y="212" textLength="193.9" lengthAdjust="spacingAndGlyphs">of the Availability</text>
<text x="906.5" y="242.3" textLength="210" lengthAdjust="spacingAndGlyphs">- interactive (CSAi)</text>
<text x="554" y="287.6" textLength="89.5" lengthAdjust="spacingAndGlyphs">Internet</text>
<text x="199" y="295.2" textLength="160" lengthAdjust="spacingAndGlyphs">User Interface</text>
<text x="199" y="326.2" textLength="201.2" lengthAdjust="spacingAndGlyphs">of the Disponibox</text>
<text x="37" y="361.8" textLength="52.4" lengthAdjust="spacingAndGlyphs">User</text>
<text x="350.5" y="414.6" textLength="129" lengthAdjust="spacingAndGlyphs">DisponiBox</text>
<text x="576.6" y="515.4" textLength="105.2" lengthAdjust="spacingAndGlyphs">Database</text>
<text x="576.6" y="545.6" textLength="68" lengthAdjust="spacingAndGlyphs">- local</text>
<text x="982.3" y="548.9" textLength="189.4" lengthAdjust="spacingAndGlyphs">Human Assistant</text>
<text x="982.3" y="579.5" textLength="224.4" lengthAdjust="spacingAndGlyphs">(who communicates</text>
<text x="982.3" y="610.4" textLength="163.2" lengthAdjust="spacingAndGlyphs">with the CSAi)</text>
<text x="121" y="612.7" textLength="324.5" lengthAdjust="spacingAndGlyphs">System concerned &amp; sensors</text>
<text x="121" y="643.7" textLength="394.7" lengthAdjust="spacingAndGlyphs">(via which the DisponiBox receives</text>
<text x="121" y="674.3" textLength="354.8" lengthAdjust="spacingAndGlyphs">data from the so-called system)</text>
</svg></body></html>
